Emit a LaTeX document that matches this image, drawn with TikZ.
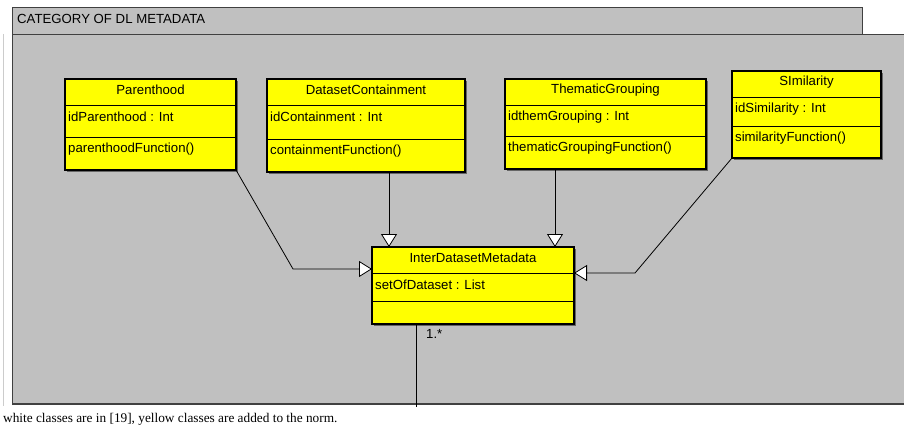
\documentclass[tikz,border=0pt]{standalone}
\usepackage{fontspec}
\setmainfont{Liberation Sans}
\newfontfamily\capfont{Liberation Serif}
\usetikzlibrary{arrows.meta,calc,fit}
\definecolor{pkggray}{HTML}{C0C0C0}
\definecolor{umlyellow}{HTML}{FFFF00}
\definecolor{pkgline}{HTML}{404040}
\tikzset{
  classbox/.style={draw=black, fill=umlyellow, line width=1.1pt, inner sep=0pt, outer sep=0pt},
  shadowbox/.style={fill=black!60},
  divider/.style={draw=black, line width=1pt},
  ctext/.style={inner sep=0pt, font=\fontsize{13.2}{15}\selectfont},
  gen/.style={draw=black, line width=0.8pt, -{Triangle[width=16pt,length=13pt,fill=white]}},
  assoc/.style={draw=black, line width=0.8pt},
}
\newcommand\umlclass[8]{%
  \fill[shadowbox, shift={(1.5,1.5)}] #2 rectangle #3;
  \path #2 coordinate (#1-nw) #3 coordinate (#1-se);
  \node[classbox, fit=(#1-nw)(#1-se)] (#1) {};
  \draw[divider] (#1.west |- 0,#4) -- (#1.east |- 0,#4);
  \draw[divider] (#1.west |- 0,#5) -- (#1.east |- 0,#5);
  \node[ctext] (#1-title) at ($(#1.north)+(0,11)$) {#6};
  \node[ctext, anchor=west] (#1-attr) at ($(#1.west |- 0,#4)+(3,12)$) {#7};
  \node[ctext, anchor=west] (#1-op) at ($(#1.west |- 0,#5)+(3,12)$) {#8};
}
\begin{document}
\begin{tikzpicture}[x=1pt,y=-1pt]
\useasboundingbox (0,0) rectangle (904,428);
% package
\fill[pkggray] (12,35) rectangle (904,405);
\fill[pkggray] (12,8) rectangle (862,35);
\draw[pkgline, line width=1pt] (12,405) -- (12,8) -- (862,8) -- (862,35);
\draw[pkgline, line width=1pt] (12,35) -- (904,35);
\draw[pkgline, line width=2pt] (12,404) -- (904,404);
\draw[black!20, line width=1pt] (3,34) -- (3,406);
\node[ctext, anchor=west] (pkgname) at (17,19) {CATEGORY OF DL METADATA};
% classes
\umlclass{par}{(65,79)}{(236,170)}{105}{137}{Parenthood}{idParenthood : Int}{parenthoodFunction()}
\umlclass{dc}{(267,79)}{(465,172)}{105}{139}{DatasetContainment}{idContainment : Int}{containmentFunction()}
\umlclass{tg}{(505,79)}{(706,169)}{105}{136}{ThematicGrouping}{idthemGrouping : Int}{thematicGroupingFunction()}
\umlclass{sim}{(732,71)}{(881,158)}{97}{126}{SImilarity}{idSimilarity : Int}{similarityFunction()}
\umlclass{idm}{(372,247)}{(574,324)}{273}{301}{InterDatasetMetadata}{setOfDataset : List}{}
% connectors
\coordinate (pA) at (293,269);
\coordinate (dcA) at (389,0);
\coordinate (tgA) at (555,0);
\coordinate (sA) at (635,273);
\coordinate (bot) at (416,407);
\draw[gen] (par.south east) -- (pA) -- (pA -| idm.west);
\draw[gen] (dcA |- dc.south) -- (dcA |- idm.north);
\draw[gen] (tgA |- tg.south) -- (tgA |- idm.north);
\draw[gen] (sim.south west) -- (sA) -- (sA -| idm.east);
\draw[assoc] (bot |- idm.south) -- (bot);
\node[ctext, anchor=west] (mult) at (426,334) {1.*};
% caption
\node[anchor=west, inner sep=0pt, font=\capfont\fontsize{13.3}{15}\selectfont] (caption) at (3,419) {white classes are in [19], yellow classes are added to the norm.};
\end{tikzpicture}
\end{document}
